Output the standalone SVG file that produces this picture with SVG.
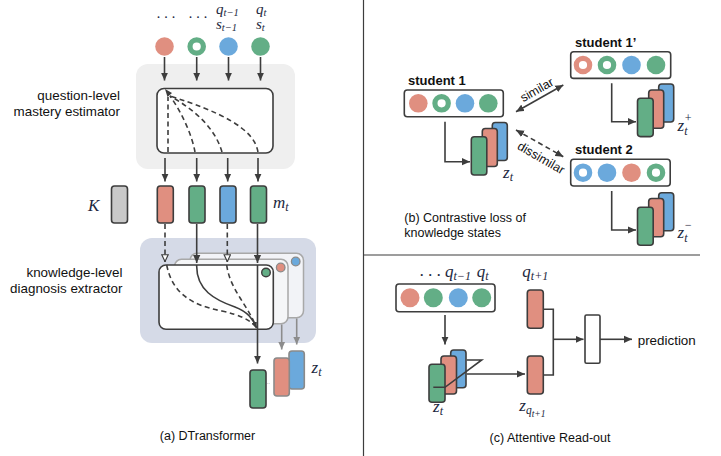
<svg xmlns="http://www.w3.org/2000/svg" width="721" height="456" viewBox="0 0 721 456">
<style>
.ln{stroke:#3d3d3d;stroke-width:1.6;fill:none}
.dash{stroke-dasharray:5 3.5}
.gl{stroke:#8c8c8c;stroke-width:1.6;fill:none}
.bx{fill:#fff;stroke:#3d3d3d;stroke-width:1.6}
.bar{stroke:#3d3d3d;stroke-width:1.6}
.gbar{stroke:#8a8a8a;stroke-width:1.6}
.r{fill:#E08F80}.g{fill:#63AE86}.b{fill:#6BA9DC}.k{fill:#C9C9C9}
.rr{fill:#fff;stroke:#E08F80;stroke-width:5.2}
.gr{fill:#fff;stroke:#63AE86;stroke-width:5.2}
.br{fill:#fff;stroke:#6BA9DC;stroke-width:5.2}
.t{font-family:"Liberation Sans",Arial,sans-serif;font-size:13.4px;fill:#111}
.cap{font-family:"Liberation Sans",Arial,sans-serif;font-size:12.5px;fill:#111}
.bold{font-family:"Liberation Sans",Arial,sans-serif;font-size:13px;font-weight:bold;fill:#111}
.m{font-family:"Liberation Serif","Times New Roman",serif;font-style:italic;font-size:17px;fill:#1c2840}
.ms{font-family:"Liberation Serif","Times New Roman",serif;font-style:italic;font-size:15px;fill:#1c2840}
.sm{font-size:12px}
.ss{font-size:10.5px}
</style>
<defs>
<marker id="ah" viewBox="0 0 10 10" refX="10" refY="5" markerWidth="8" markerHeight="8" markerUnits="userSpaceOnUse" orient="auto-start-reverse"><path d="M0,0.5 L10,5 L0,9.5 z" fill="#3d3d3d"/></marker>
<marker id="oh" viewBox="0 0 10 10" refX="10" refY="5" markerWidth="8" markerHeight="8" markerUnits="userSpaceOnUse" orient="auto"><path d="M1,1 L9.5,5 L1,9 z" fill="#fff" stroke="#3d3d3d" stroke-width="1.4"/></marker>
<marker id="gh" viewBox="0 0 10 10" refX="10" refY="5" markerWidth="8" markerHeight="8" markerUnits="userSpaceOnUse" orient="auto"><path d="M0,0.5 L10,5 L0,9.5 z" fill="#8c8c8c"/></marker>
<marker id="sh" viewBox="0 0 10 10" refX="10" refY="5" markerWidth="6" markerHeight="6" markerUnits="userSpaceOnUse" orient="auto"><path d="M0,0.5 L10,5 L0,9.5 z" fill="#3d3d3d"/></marker>
</defs>

<rect width="721" height="456" fill="#fff"/>

<!-- Panel dividers -->
<g id="dividers" stroke="#3d3d3d" stroke-width="1.2">
<line x1="363.5" y1="0" x2="363.5" y2="456"/>
<line x1="363.5" y1="255" x2="700" y2="255"/>
</g>

<!-- ================= Panel (a) ================= -->
<g id="a-inputs">
<text class="ms" x="157" y="18">. . .</text>
<text class="ms" x="189" y="18">. . .</text>
<text class="ms" x="216" y="14">q<tspan class="ss" dy="2">t−1</tspan></text>
<text class="ms" x="216" y="29">s<tspan class="ss" dy="2">t−1</tspan></text>
<text class="ms" x="256" y="14">q<tspan class="ss" dy="2">t</tspan></text>
<text class="ms" x="256" y="29">s<tspan class="ss" dy="2">t</tspan></text>
<circle class="r" cx="164.5" cy="46.5" r="9.3"/>
<circle class="gr" cx="196.7" cy="46.5" r="6.7"/>
<circle class="b" cx="228.5" cy="46.5" r="9.3"/>
<circle class="g" cx="260.5" cy="46.5" r="9.3"/>
</g>

<g id="a-question-estimator">
<rect x="136" y="64" width="159" height="105" rx="12" fill="#EFEFEF"/>
<text class="t" x="120" y="100" text-anchor="end">question-level</text>
<text class="t" x="120" y="115.5" text-anchor="end">mastery estimator</text>
<rect class="bx" x="157" y="88.5" width="116" height="64.5" rx="7" fill="none"/>
<g class="ln dash">
<path d="M168,152 L168,97"/>
<path d="M195,152 C192,135 182,113 170,96"/>
<path d="M222,152 C215,128 195,110 170,96"/>
<path d="M258,152 C254,128 220,112 170,96"/>
</g>
<path d="M165,89 L172,93 L167.5,97 z" fill="#3d3d3d"/>
</g>

<g id="a-mastery">
<rect class="bar k" x="111.5" y="186" width="16" height="37" rx="3"/>
<rect class="bar r" x="157.3" y="186" width="16" height="37" rx="3"/>
<rect class="bar g" x="189" y="186" width="16" height="37" rx="3"/>
<rect class="bar b" x="220" y="186" width="16" height="37" rx="3"/>
<rect class="bar g" x="250.5" y="186" width="16" height="37" rx="3"/>
<text class="m" x="88" y="211" font-size="18">K</text>
<text class="m" x="273" y="208" font-size="18">m<tspan class="sm" dy="3">t</tspan></text>
</g>

<g id="a-knowledge-extractor">
<rect x="140" y="238" width="176" height="105" rx="12" fill="#D5DAE7"/>
<text class="t" x="122.5" y="277" text-anchor="end">knowledge-level</text>
<text class="t" x="122.5" y="293" text-anchor="end">diagnosis extractor</text>
<rect x="190" y="253.3" width="113.5" height="64.5" rx="7" fill="#F2F3F7" stroke="#A8A8A8" stroke-width="1.5"/>
<circle cx="295.7" cy="261.5" r="4.3" class="b" stroke="#8a8a8a" stroke-width="1.3"/>
<rect x="174.5" y="259.3" width="113.5" height="64.5" rx="7" fill="#F5F6F8" stroke="#A8A8A8" stroke-width="1.5"/>
<circle cx="280.7" cy="267.5" r="4.3" class="r" stroke="#8a8a8a" stroke-width="1.3"/>
<rect class="bx" x="159" y="265" width="114.3" height="64.3" rx="7"/>
<line class="ln" x1="257.5" y1="265" x2="257.5" y2="329.3"/>
<circle cx="266" cy="272.5" r="4.3" class="g" stroke="#3d3d3d" stroke-width="1.4"/>
<path class="ln dash" d="M166.7,265 C172,292 190,305 222,311 C240,315 250,320 256,327"/>
<path class="ln" d="M196.7,265 C196,290 215,300 235,307 C248,312 253,319 256.5,328" marker-end="url(#sh)"/>
<path class="ln dash" d="M226.7,265 C230,290 248,305 256,327"/>
</g>

<g id="a-state">
<rect class="bar g" x="250" y="370" width="16" height="38" rx="3"/>
<rect class="gbar b" x="289" y="351" width="15.3" height="38" rx="3"/>
<rect class="gbar r" x="274" y="358" width="15.3" height="38" rx="3"/>
<text x="266.5" y="384" font-family="Liberation Sans,sans-serif" font-size="6" fill="#777">..</text>
<text class="m" x="311.5" y="372.5">z<tspan class="sm" dy="3">t</tspan></text>
<text class="cap" x="207.5" y="440" text-anchor="middle">(a) DTransformer</text>
</g>

<g id="a-connectors">
<g class="ln" marker-end="url(#ah)">
<line x1="164.5" y1="57" x2="164.5" y2="80.5"/>
<line x1="196.7" y1="57" x2="196.7" y2="80.5"/>
<line x1="228.5" y1="57" x2="228.5" y2="80.5"/>
<line x1="260.5" y1="57" x2="260.5" y2="80.5"/>
<line x1="165" y1="158" x2="165" y2="181.5"/>
<line x1="196.7" y1="158" x2="196.7" y2="181.5"/>
<line x1="227.7" y1="158" x2="227.7" y2="181.5"/>
<line x1="258" y1="158" x2="258" y2="181.5"/>
<line x1="196.7" y1="224" x2="196.7" y2="263"/>
<line x1="257.5" y1="224" x2="257.5" y2="263"/>
<line x1="257.5" y1="330" x2="257.5" y2="363.5"/>
</g>
<g class="ln dash" marker-end="url(#oh)">
<line x1="165" y1="224" x2="165" y2="262"/>
<line x1="227.3" y1="224" x2="227.3" y2="262"/>
</g>
<g class="gl" marker-end="url(#gh)">
<line x1="281.7" y1="324.5" x2="281.7" y2="349.5"/>
<line x1="296.7" y1="318.5" x2="296.7" y2="344.5"/>
</g>
</g>

<!-- ================= Panel (b) ================= -->
<g id="b-student1">
<text class="bold" x="408" y="85">student 1</text>
<rect class="bx" x="404.3" y="90" width="99" height="26.7" rx="3"/>
<circle class="r" cx="418.3" cy="103.3" r="9.3"/>
<circle class="gr" cx="441.6" cy="103.3" r="6.7"/>
<circle class="b" cx="465" cy="103.3" r="9.3"/>
<circle class="g" cx="488.3" cy="103.3" r="9.3"/>
<rect class="bar b" x="492.3" y="122.5" width="15" height="38" rx="3"/>
<rect class="bar r" x="482.3" y="128.5" width="15" height="38" rx="3"/>
<rect class="bar g" x="471.3" y="136.7" width="15.5" height="38.3" rx="3"/>
<text class="m" x="503" y="178">z<tspan class="sm" dy="3">t</tspan></text>
</g>

<g id="b-student1p">
<text class="bold" x="575" y="46.7">student 1’</text>
<rect class="bx" x="570.7" y="51.7" width="100" height="26.7" rx="3"/>
<circle class="rr" cx="583" cy="65" r="6.7"/>
<circle class="gr" cx="607" cy="65" r="6.7"/>
<circle class="b" cx="631.5" cy="65" r="9.3"/>
<circle class="g" cx="656" cy="65" r="9.3"/>
<rect class="bar b" x="658.7" y="84" width="15" height="38" rx="3"/>
<rect class="bar r" x="648.7" y="90" width="15" height="38.3" rx="3"/>
<rect class="bar g" x="637.5" y="98.3" width="15.7" height="38.3" rx="3"/>
<text class="m" x="677.5" y="131">z<tspan class="sm" dy="4">t</tspan><tspan class="sm" dx="-3.5" dy="-13">+</tspan></text>
</g>

<g id="b-student2">
<text class="bold" x="575" y="154">student 2</text>
<rect class="bx" x="570.7" y="159.3" width="99.5" height="26.7" rx="3"/>
<circle class="br" cx="583" cy="172.7" r="6.7"/>
<circle class="b" cx="607" cy="172.7" r="9.3"/>
<circle class="r" cx="631.5" cy="172.7" r="9.3"/>
<circle class="gr" cx="656" cy="172.7" r="6.7"/>
<rect class="bar b" x="658.7" y="192.7" width="15" height="38" rx="3"/>
<rect class="bar r" x="648.7" y="198.5" width="15" height="38.3" rx="3"/>
<rect class="bar g" x="637.5" y="207.3" width="15.7" height="38" rx="3"/>
<text class="m" x="677.5" y="238">z<tspan class="sm" dy="4">t</tspan><tspan class="sm" dx="-3.5" dy="-13">−</tspan></text>
</g>

<g id="b-connectors">
<g class="ln" marker-end="url(#ah)">
<path d="M445,121.7 V161.7 H470"/>
<path d="M611.7,83.3 V121.7 H636"/>
<path d="M611.7,191 V230 H636"/>
</g>
<line class="ln" x1="516" y1="111.7" x2="563.3" y2="85" marker-start="url(#ah)" marker-end="url(#ah)"/>
<line class="ln dash" x1="516" y1="130" x2="563.3" y2="156.7" marker-start="url(#ah)" marker-end="url(#ah)"/>
<text class="cap" transform="translate(537,90) rotate(-29.4)" x="0" y="4" text-anchor="middle" font-size="12.3">similar</text>
<text class="cap" transform="translate(541,158) rotate(30)" x="0" y="4" text-anchor="middle" font-size="12.3">dissimilar</text>
</g>

<g id="b-caption">
<text class="cap" x="404.3" y="221.7">(b) Contrastive loss of</text>
<text class="cap" x="404.3" y="236.7">knowledge states</text>
</g>

<!-- ================= Panel (c) ================= -->
<g id="c-input">
<text class="m" x="420" y="276">. . .</text>
<text class="m" x="445" y="276.7">q<tspan class="sm" dy="3">t−1</tspan></text>
<text class="m" x="476.7" y="276.7">q<tspan class="sm" dy="3">t</tspan></text>
<rect class="bx" x="396" y="284" width="99" height="27.7" rx="3"/>
<circle class="r" cx="410" cy="297.7" r="9.5"/>
<circle class="g" cx="433.3" cy="297.7" r="9.5"/>
<circle class="b" cx="458.3" cy="297.7" r="9.5"/>
<circle class="g" cx="481.7" cy="297.7" r="9.5"/>
</g>

<g id="c-state">
<rect class="bar b" x="450.7" y="350" width="15.3" height="37.7" rx="3"/>
<rect class="bar r" x="441" y="356" width="15.5" height="38" rx="3"/>
<rect class="bar g" x="429" y="364.3" width="16" height="38" rx="3"/>
<text class="m" x="433" y="412">z<tspan class="sm" dy="3">t</tspan></text>
</g>

<g id="c-query">
<text class="m" x="522.3" y="276.7">q<tspan class="sm" dy="3">t+1</tspan></text>
<rect class="bar r" x="527.3" y="290" width="16" height="38.3" rx="3"/>
<rect class="bar r" x="527.3" y="356" width="16" height="38" rx="3"/>
<text class="m" x="519.3" y="411">z<tspan font-size="11.5" dy="3">q</tspan><tspan font-size="9.5" dy="2.5">t+1</tspan></text>
</g>

<g id="c-readout">
<rect class="bx" x="585" y="315" width="15" height="48.3" rx="1.5"/>
<text class="t" x="637.7" y="345" font-size="13">prediction</text>
<text class="cap" x="550" y="441.7" text-anchor="middle">(c) Attentive Read-out</text>
</g>

<g id="c-connectors">
<line class="ln" x1="445" y1="315" x2="445" y2="344.5" marker-end="url(#ah)"/>
<polyline class="ln" points="433.3,387.3 445,387.3 481.7,360 466.7,360"/>
<line class="ln" x1="466.7" y1="374" x2="525" y2="374" marker-end="url(#ah)"/>
<path class="ln" d="M543.3,309.3 H553.3 V375 H543.3"/>
<line class="ln" x1="553.3" y1="339.3" x2="583.5" y2="339.3" marker-end="url(#ah)"/>
<line class="ln" x1="600" y1="339.3" x2="632" y2="339.3" marker-end="url(#ah)"/>
</g>
</svg>
